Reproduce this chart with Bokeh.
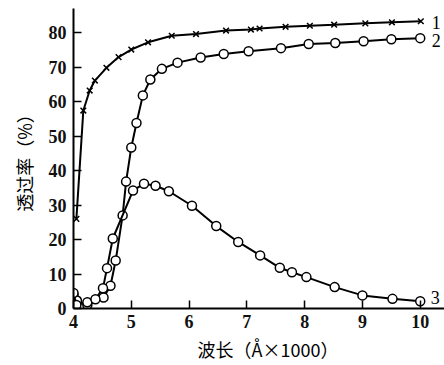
from bokeh.plotting import figure
from bokeh.models import Range1d, FixedTicker
from bokeh.core.properties import value
from bokeh.embed import file_html
from bokeh.resources import INLINE

# Curve 1 (x markers)
x1 = [4.05, 4.17, 4.28, 4.37, 4.57, 4.78, 5.0, 5.29, 5.7, 6.12, 6.64, 7.07, 7.22, 7.67, 8.09, 8.51, 9.05, 9.51, 10.01]
y1 = [26, 57.4, 63.2, 66.1, 69.8, 72.9, 75.1, 77.2, 79.1, 79.6, 80.6, 80.9, 81.2, 81.7, 82.0, 82.3, 82.7, 83.0, 83.3]

# Curve 2 (circles, high transmission)
x2 = [4.0, 4.06, 4.24, 4.52, 4.64, 4.73, 4.85, 4.91, 5.0, 5.09, 5.2, 5.33, 5.53, 5.8, 6.2, 6.6, 7.03, 7.59, 8.07, 8.53, 9.02, 9.5, 10.0]
y2 = [4.0, 2.3, 1.0, 3.2, 6.6, 13.9, 27.0, 36.8, 46.7, 53.8, 61.8, 66.4, 69.5, 71.3, 72.8, 73.8, 74.6, 75.5, 76.7, 77.0, 77.5, 78.1, 78.4]

# Curve 3 (circles, peaked)
x3 = [4.0, 4.05, 4.24, 4.38, 4.51, 4.58, 4.68, 5.03, 5.22, 5.42, 5.65, 6.05, 6.47, 6.85, 7.23, 7.57, 7.78, 8.03, 8.52, 9.0, 9.52, 10.0]
y3 = [4.5, 1.0, 1.8, 2.7, 5.9, 11.7, 20.3, 34.2, 36.2, 35.6, 34.0, 29.8, 23.9, 19.3, 15.4, 11.8, 10.5, 9.1, 6.2, 3.8, 2.8, 2.1]

x_ticks = [4, 5, 6, 7, 8, 9, 10]
y_ticks = [0, 10, 20, 30, 40, 50, 60, 70, 80]

curve_names = ["1", "2", "3"]
name_x = [10.2, 10.2, 10.18]
name_y = [83.0, 77.6, 3.3]

p = figure(width=444, height=365, output_backend="svg", toolbar_location=None,
           x_range=Range1d(4, 10.42), y_range=Range1d(0, 87),
           min_border_left=73, min_border_bottom=57, min_border_top=8, min_border_right=0)
p.outline_line_color = None
p.grid.visible = False
p.background_fill_color = "white"

for ax in (p.xaxis[0], p.yaxis[0]):
    ax.axis_line_width = 2
    ax.axis_line_color = "black"
    ax.major_tick_in = 8
    ax.major_tick_out = 0
    ax.major_tick_line_width = 1.5
    ax.minor_tick_line_color = None
    ax.major_label_text_font = "Liberation Serif"
    ax.major_label_text_font_size = "18px"
    ax.major_label_text_font_style = "bold"
    ax.major_label_text_color = "#111111"
    ax.axis_label_text_font = "Noto Sans CJK SC"
    ax.axis_label_text_font_size = "18px"
    ax.axis_label_text_font_style = "normal"
    ax.axis_label_text_color = "black"

p.xaxis.ticker = FixedTicker(ticks=x_ticks)
p.yaxis.ticker = FixedTicker(ticks=y_ticks)
p.xaxis.major_label_standoff = 6
p.yaxis.major_label_standoff = 7
p.xaxis.axis_label = "\u3000波长（Å×1000）"
p.yaxis.axis_label = "透过率（%）"
p.xaxis.axis_label_standoff = 5
p.yaxis.axis_label_standoff = 9

p.line(x1, y1, line_color="black", line_width=2)
p.scatter(x1, y1, marker="x", size=8, line_color="black", line_width=1.5)

p.line(x2, y2, line_color="black", line_width=2)
p.scatter(x2, y2, marker="circle", size=9, fill_color="white", line_color="black", line_width=1.5)

p.line(x3, y3, line_color="black", line_width=2)
p.scatter(x3, y3, marker="circle", size=9, fill_color="white", line_color="black", line_width=1.5)

p.text(x=name_x, y=name_y, text=curve_names, text_font=value("Liberation Serif"),
       text_font_size="18px", text_baseline="middle", text_align="left", text_color="black")

open("out.html", "w").write(file_html(p, INLINE))
